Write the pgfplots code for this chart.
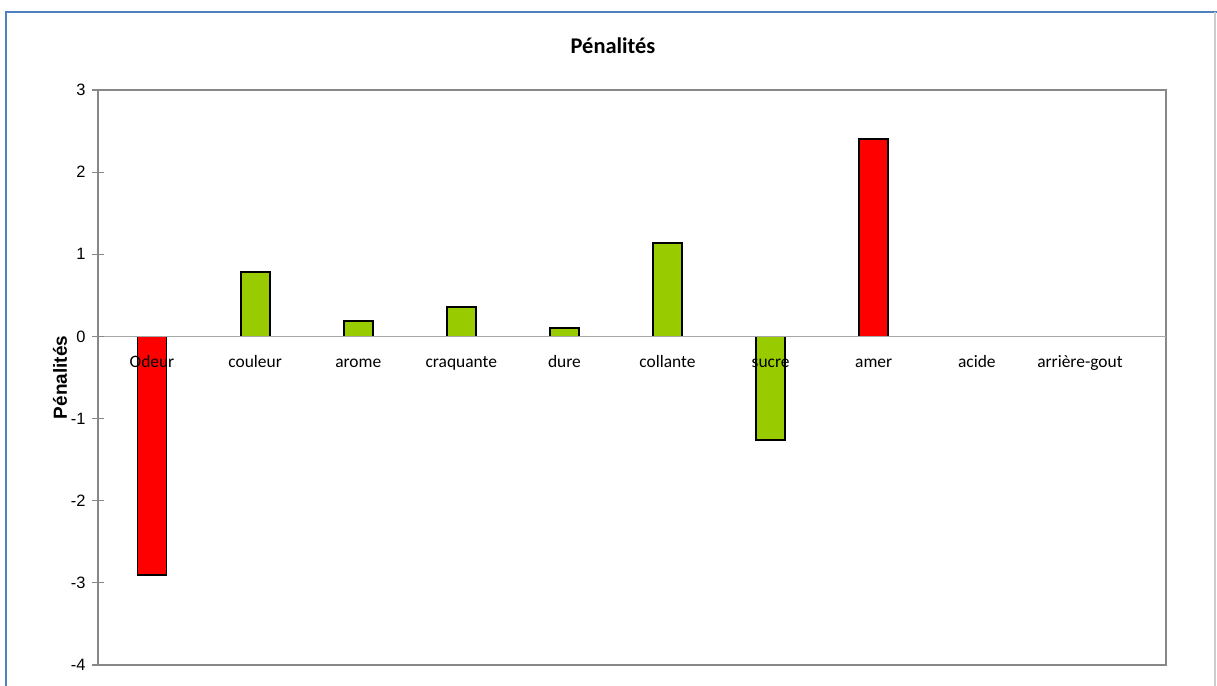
\documentclass[border=0pt]{standalone}
\usepackage{fontspec}
\setmainfont{Liberation Sans}
\newfontfamily\calib{Carlito}
\usepackage{pgfplots}
\pgfplotsset{compat=1.18}
\definecolor{barred}{HTML}{FF0000}
\definecolor{bargreen}{HTML}{99CC00}
\definecolor{frameblue}{HTML}{4F81BD}
\definecolor{axgray}{HTML}{888888}

\begin{document}
\begin{tikzpicture}[x=1bp,y=1bp]
\useasboundingbox (0,0) rectangle (1217,686);
% outer chart frame
\draw[frameblue, line width=2.2bp] (6,-2) -- (6,674) -- (1219,674);
\draw[black!20, line width=1.5bp] (1215,674) -- (1215,-2);
\node[font=\calib\fontsize{22.5}{26}\selectfont\bfseries] at (613,640) {Pénalités};
\begin{axis}[
  scale only axis, width=1068bp, height=575bp,
  at={(98bp,21bp)}, anchor=south west,
  xmin=-0.524, xmax=9.835, ymin=-4, ymax=3,
  ybar, bar width=29bp, bar shift=0pt,
  axis on top,
  axis line style={axgray, line width=1.8bp},
  ytick={-4,...,3},
  tick pos=left,
  y tick style={axgray, line width=1.2bp},
  tick align=center,
  major tick length=12bp,
  xtick={0,...,9},
  xticklabels={Odeur,couleur,arome,craquante,dure,collante,sucre,amer,acide,arrière-gout},
  x tick style={draw=none},
  xticklabel style={yshift=328.57bp-10bp, font=\calib\fontsize{17.5}{20}\selectfont,
    text height=12bp, text depth=4bp},
  yticklabel style={font=\fontsize{16.5}{19}\selectfont, xshift=-3bp},
  /pgf/number format/assume math mode=true,
  extra y ticks={0},
  extra y tick labels={},
  extra y tick style={grid=major, major grid style={black!35, line width=1bp}},
  ylabel={Pénalités},
  ylabel style={font=\fontsize{19}{22}\selectfont\bfseries, at={(axis description cs:-0.0356,0.5)}, anchor=center},
]
\addplot[fill=barred, draw=black, line width=1.8bp] coordinates {(0,-2.90) (7,2.40)};
\addplot[fill=bargreen, draw=black, line width=1.8bp] coordinates {(1,0.78) (2,0.19) (3,0.36) (4,0.10) (5,1.14) (6,-1.26)};
\end{axis}
\end{tikzpicture}
\end{document}
